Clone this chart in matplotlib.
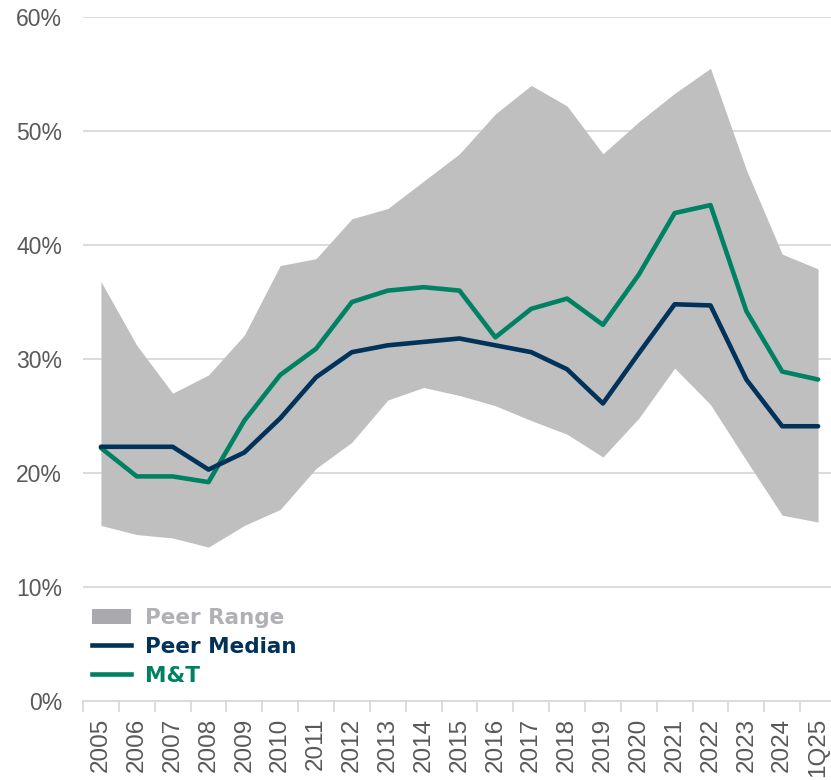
import matplotlib
matplotlib.use("Agg")
import matplotlib.pyplot as plt
from matplotlib.patches import Patch
from matplotlib.lines import Line2D
from matplotlib.ticker import FixedLocator, FuncFormatter
import numpy as np

plt.rcParams['font.family'] = ['Liberation Sans', 'DejaVu Sans']

categories = ['2005', '2006', '2007', '2008', '2009', '2010', '2011', '2012', '2013', '2014',
              '2015', '2016', '2017', '2018', '2019', '2020', '2021', '2022', '2023', '2024', '1Q25']
peer_high = [36.8, 31.2, 27.0, 28.6, 32.1, 38.2, 38.8, 42.3, 43.2, 45.6,
             48.0, 51.5, 54.0, 52.2, 48.0, 50.8, 53.3, 55.5, 46.6, 39.2, 37.9]
peer_low = [15.4, 14.6, 14.3, 13.5, 15.4, 16.8, 20.4, 22.7, 26.4, 27.5,
            26.8, 25.9, 24.6, 23.4, 21.4, 24.8, 29.2, 26.0, 21.1, 16.3, 15.7]
peer_median = [22.3, 22.3, 22.3, 20.3, 21.8, 24.8, 28.4, 30.6, 31.2, 31.5,
               31.8, 31.2, 30.6, 29.1, 26.1, 30.5, 34.8, 34.7, 28.2, 24.1, 24.1]
mt = [22.2, 19.7, 19.7, 19.2, 24.6, 28.6, 30.9, 35.0, 36.0, 36.3,
      36.0, 31.9, 34.4, 35.3, 33.0, 37.4, 42.8, 43.5, 34.2, 28.9, 28.2]
y_ticks = [0, 10, 20, 30, 40, 50, 60]

navy = '#00325a'
green = '#008262'
fill_c = '#bfbfbf'
grid_c = '#d9d9d9'
text_c = '#595959'

W, H = 831, 780
fig = plt.figure(figsize=(W / 100, H / 100), dpi=100)
left, right, top, bottom = 83, 836, 17, 701
ax = fig.add_axes([left / W, 1 - bottom / H, (right - left) / W, (bottom - top) / H])

x = np.arange(len(categories))
ax.fill_between(x, peer_low, peer_high, color=fill_c, lw=0, zorder=2)
ax.plot(x, peer_median, color=navy, lw=3.3, zorder=4, solid_joinstyle='round', solid_capstyle='round')
ax.plot(x, mt, color=green, lw=3.3, zorder=3, solid_joinstyle='round', solid_capstyle='round')

ax.set_xlim(-0.5, len(categories) - 0.5)
ax.set_ylim(0, 60)
ax.set_yticks(y_ticks)
ax.yaxis.set_major_formatter(FuncFormatter(lambda v, p: f"{int(v)}%"))
ax.grid(axis='y', color=grid_c, lw=1.3, zorder=0)
ax.set_axisbelow(True)

ax.set_xticks(x)
ax.set_xticklabels(categories, rotation=90, fontsize=17.5, color=text_c)
ax.xaxis.set_minor_locator(FixedLocator(np.arange(-0.5, len(categories), 1.0)))
ax.tick_params(axis='x', which='major', length=0, pad=12)
ax.tick_params(axis='x', which='minor', length=8, color=grid_c, width=1.3)
ax.tick_params(axis='y', length=0, labelsize=16.5, labelcolor=text_c, pad=15)

for s in ['top', 'right', 'left']:
    ax.spines[s].set_visible(False)
ax.spines['bottom'].set_color(grid_c)
ax.spines['bottom'].set_linewidth(1.3)

handles = [Patch(facecolor='#aaa9ae', edgecolor='none'),
           Line2D([0], [0], color=navy, lw=3.3),
           Line2D([0], [0], color=green, lw=3.3)]
labels = ['Peer Range', 'Peer Median', 'M&T']
leg = ax.legend(handles, labels, loc='upper left', bbox_to_anchor=(0.012, 0.136),
                frameon=False, borderaxespad=0, borderpad=0,
                prop={'weight': 'bold', 'size': 15.5, 'family': 'DejaVu Sans'},
                handlelength=1.8, handleheight=0.73, handletextpad=0.65, labelspacing=0.42,
                labelcolor=['#b0b0b5', navy, green])

fig.savefig('out.png', dpi=100)
